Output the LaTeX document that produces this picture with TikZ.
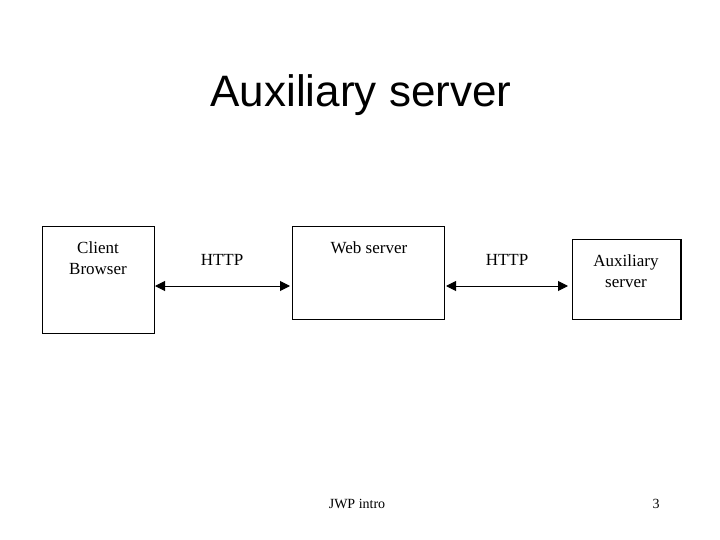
\documentclass[tikz,border=0pt]{standalone}
\usepackage{fontspec}
\setmainfont{Liberation Serif}
\newfontfamily\titlefont{Liberation Sans}
\usetikzlibrary{arrows.meta}
\begin{document}
\begin{tikzpicture}[x=1pt,y=-1pt,
  box/.style={draw=black,line width=1pt},
  lbl/.style={font=\fontsize{17}{21}\selectfont,inner sep=0pt,align=center},
  conn/.style={line width=1pt,{Triangle[length=10pt,width=10pt]}-{Triangle[length=10pt,width=10pt]}}]
\useasboundingbox[fill=white] (0,0) rectangle (720,540);
\node[font=\titlefont\fontsize{44}{50}\selectfont,inner sep=0pt] (title) at (361,95) {Auxiliary server};
\draw[box] (42,227) rectangle (154,333);
\coordinate (cl) at (154,286);
\draw[box] (292,227) rectangle (444,319);
\coordinate (wl) at (292,286);
\coordinate (wr) at (444,286);
\draw[box] (572,239) rectangle (681,319);
\draw[line width=2pt] (681,239) -- (681,319);
\coordinate (al) at (572,286);
\node[lbl] (client) at (98,258) {Client\\Browser};
\node[lbl] (web) at (369,248) {Web server};
\node[lbl] (aux) at (626,271) {Auxiliary\\server};
\node[lbl] (h1) at (222,260) {HTTP};
\node[lbl] (h2) at (507,260) {HTTP};
\draw[conn] ([xshift=1pt]cl) -- ([xshift=-2pt]wl);
\draw[conn] ([xshift=2pt]wr) -- ([xshift=-4pt]al);
\node[font=\fontsize{14}{16}\selectfont,inner sep=0pt] (foot) at (357,504) {JWP intro};
\node[font=\fontsize{14}{16}\selectfont,inner sep=0pt] (num) at (656,504) {3};
\end{tikzpicture}
\end{document}
